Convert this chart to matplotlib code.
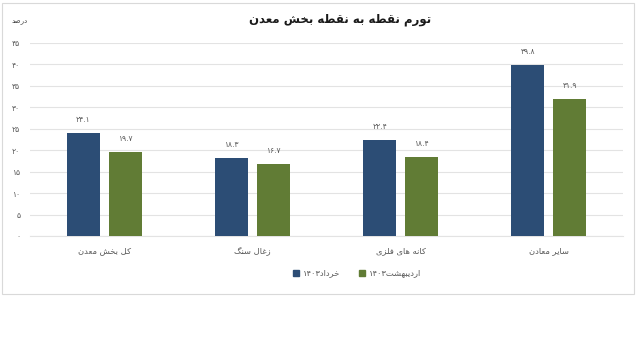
import matplotlib
matplotlib.use('Agg')
import matplotlib.pyplot as plt
from matplotlib.patches import Rectangle, Patch
import numpy as np

# Persian text needs joining forms + right-to-left order; matplotlib does neither
FORMS = {
  'ا': (0xFE8D, 0xFE8E), 'آ': (0xFE81, 0xFE82),
  'ب': (0xFE8F, 0xFE90, 0xFE91, 0xFE92), 'پ': (0xFB56, 0xFB57, 0xFB58, 0xFB59),
  'ت': (0xFE95, 0xFE96, 0xFE97, 0xFE98), 'ث': (0xFE99, 0xFE9A, 0xFE9B, 0xFE9C),
  'ج': (0xFE9D, 0xFE9E, 0xFE9F, 0xFEA0), 'چ': (0xFB7A, 0xFB7B, 0xFB7C, 0xFB7D),
  'ح': (0xFEA1, 0xFEA2, 0xFEA3, 0xFEA4), 'خ': (0xFEA5, 0xFEA6, 0xFEA7, 0xFEA8),
  'د': (0xFEA9, 0xFEAA), 'ذ': (0xFEAB, 0xFEAC), 'ر': (0xFEAD, 0xFEAE),
  'ز': (0xFEAF, 0xFEB0), 'ژ': (0xFB8A, 0xFB8B),
  'س': (0xFEB1, 0xFEB2, 0xFEB3, 0xFEB4), 'ش': (0xFEB5, 0xFEB6, 0xFEB7, 0xFEB8),
  'ص': (0xFEB9, 0xFEBA, 0xFEBB, 0xFEBC), 'ض': (0xFEBD, 0xFEBE, 0xFEBF, 0xFEC0),
  'ط': (0xFEC1, 0xFEC2, 0xFEC3, 0xFEC4), 'ظ': (0xFEC5, 0xFEC6, 0xFEC7, 0xFEC8),
  'ع': (0xFEC9, 0xFECA, 0xFECB, 0xFECC), 'غ': (0xFECD, 0xFECE, 0xFECF, 0xFED0),
  'ف': (0xFED1, 0xFED2, 0xFED3, 0xFED4), 'ق': (0xFED5, 0xFED6, 0xFED7, 0xFED8),
  'ک': (0xFB8E, 0xFB8F, 0xFB90, 0xFB91), 'گ': (0xFB92, 0xFB93, 0xFB94, 0xFB95),
  'ل': (0xFEDD, 0xFEDE, 0xFEDF, 0xFEE0), 'م': (0xFEE1, 0xFEE2, 0xFEE3, 0xFEE4),
  'ن': (0xFEE5, 0xFEE6, 0xFEE7, 0xFEE8), 'ه': (0xFEE9, 0xFEEA, 0xFEEB, 0xFEEC),
  'و': (0xFEED, 0xFEEE), 'ی': (0xFBFC, 0xFBFD, 0xFBFE, 0xFBFF),
}
DIGITS = str.maketrans('0123456789', '۰۱۲۳۴۵۶۷۸۹')


def shape(s):
    out = []
    for i, c in enumerate(s):
        f = FORMS.get(c)
        if f is None:
            out.append(c)
            continue
        prev = s[i-1] if i > 0 else ''
        nxt = s[i+1] if i < len(s) - 1 else ''
        jp = prev in FORMS and len(FORMS[prev]) == 4
        jn = nxt in FORMS and len(f) == 4
        if jp and jn:
            k = 3
        elif jp:
            k = 1
        elif jn:
            k = 2
        else:
            k = 0
        out.append(chr(f[k]))
    return ''.join(out)


def rtl(s):
    'shape, then lay out runs right to left; numbers stay left to right'
    runs, cur, isnum = [], '', None
    for c in s:
        n = c in '۰۱۲۳۴۵۶۷۸۹0123456789.'
        if isnum is None or n == isnum:
            cur += c
        else:
            runs.append((cur, isnum))
            cur = c
        isnum = n
    runs.append((cur, isnum))
    return ''.join(r if num else shape(r)[::-1] for r, num in reversed(runs))


def fa(v):
    return str(v).translate(DIGITS)


categories = ['کل بخش معدن', 'زغال سنگ', 'کانه های فلزی', 'سایر معادن']
series_names = ['خرداد۱۴۰۳', 'اردیبهشت۱۴۰۳']
khordad = [24.1, 18.3, 22.4, 39.8]
ordibehesht = [19.7, 16.7, 18.4, 31.9]
yticks = [0, 5, 10, 15, 20, 25, 30, 35, 40, 45]

blue = '#2C4D75'
green = '#617C35'
grey = '#595959'

plt.rcParams['font.family'] = ['DejaVu Sans']
fig = plt.figure(figsize=(6.4, 3.62), dpi=100)
ax = fig.add_axes([30/640, 1 - 236/362, 593/640, 193/362])

x = np.arange(len(categories))
w = 0.2225
off = 0.1416
b1 = ax.bar(x - off, khordad, w, color=blue, zorder=3)
b2 = ax.bar(x + off, ordibehesht, w, color=green, zorder=3)
for bars, vals in ((b1, khordad), (b2, ordibehesht)):
    for r, v in zip(bars, vals):
        ax.text(r.get_x() + r.get_width()/2, v + 2.1, fa(v), ha='center', va='bottom',
                fontsize=5.5, color=grey)

ax.set_xlim(-0.5, 3.5)
ax.set_ylim(0, 45)
ax.set_yticks(yticks)
ax.set_yticklabels([fa(t) for t in yticks], fontsize=5.5, color=grey)
ax.set_xticks(x)
ax.set_xticklabels([rtl(c) for c in categories], fontsize=6, color=grey)
ax.tick_params(length=0, pad=7)
ax.tick_params(axis='y', pad=7)
ax.yaxis.grid(True, color='#e3e3e3', lw=0.8, zorder=0)
for s in ax.spines.values():
    s.set_visible(False)
ax.spines['bottom'].set_visible(True)
ax.spines['bottom'].set_color('#e3e3e3')

fig.text(340/640, 1 - 20/362, rtl('تورم نقطه به نقطه بخش معدن'), ha='center', va='center',
         fontsize=8.5, fontweight='bold', color='#1a1a1a')
fig.text(20/640, 1 - 21/362, rtl('درصد'), ha='center', va='center', fontsize=5, color='#404040')

handles = [Patch(color=blue), Patch(color=green)]
fig.legend(handles, [rtl(n) for n in series_names], loc='center', ncol=2,
           bbox_to_anchor=(357/640, 1 - 273/362), frameon=False, fontsize=6,
           handlelength=0.7, handleheight=0.7, handletextpad=0.5, columnspacing=2.2,
           labelcolor=grey)

fig.patches.append(Rectangle((2/640, 1 - 294/362), 632/640, 291/362, transform=fig.transFigure,
                             fill=False, edgecolor='#d9d9d9', lw=0.8))

fig.savefig('out.png', dpi=100)
